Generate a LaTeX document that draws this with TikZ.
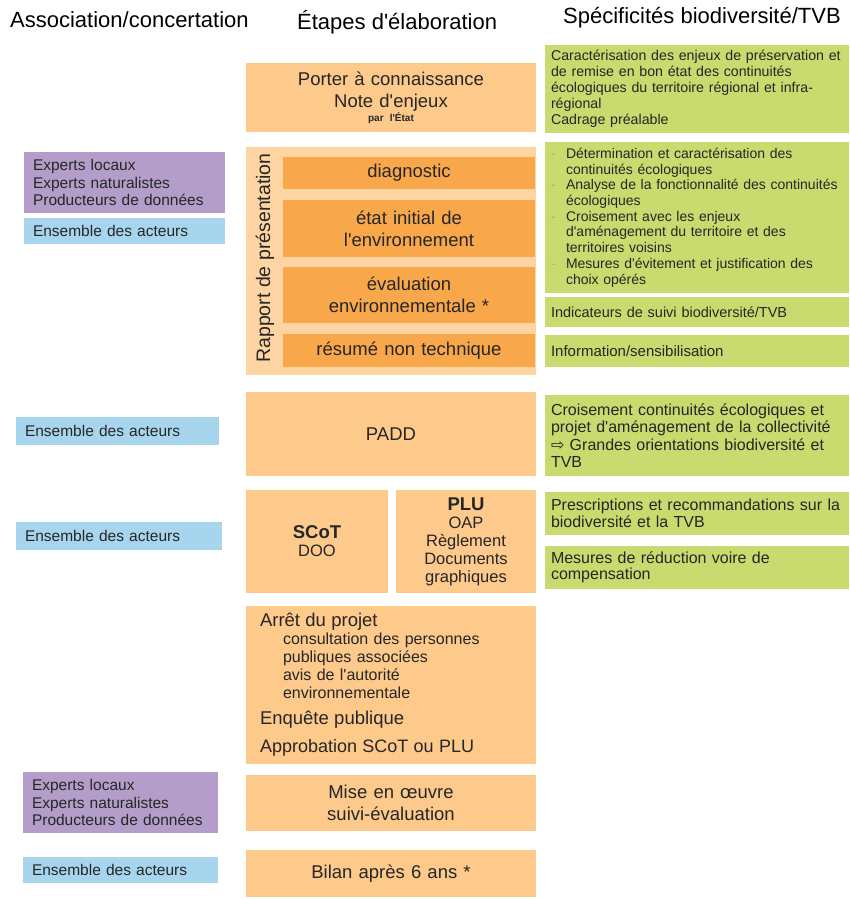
\documentclass[tikz,border=0pt]{standalone}
\usepackage{fontspec}
\setmainfont{Liberation Sans}[Ligatures=TeXOff]
\newfontfamily\arrowfont{DejaVu Sans}

\definecolor{lightorange}{HTML}{FDCA8C}
\definecolor{paleorange}{HTML}{FDD4A2}
\definecolor{darkorange}{HTML}{F8A84A}
\definecolor{leafgreen}{HTML}{C9DB6E}
\definecolor{lilac}{HTML}{B49EC9}
\definecolor{skyblue}{HTML}{A8D5EE}
\definecolor{inkgray}{HTML}{262626}
\definecolor{dashcol}{HTML}{B0AE78}

\newcommand{\fsz}[2]{\fontsize{#1}{#2}\selectfont}

\tikzset{
  cellbox/.style={anchor=north west, inner sep=0pt, outer sep=0pt, text=inkgray},
  stagebox/.style={cellbox, fill=lightorange, align=center, text width=280pt,
    minimum width=290, font=\fsz{18.5}{22}},
  substagebox/.style={cellbox, fill=darkorange, align=center, text width=240pt,
    minimum width=252, font=\fsz{18.5}{22}},
  specbox/.style={cellbox, fill=leafgreen, align=left, text width=292pt,
    minimum width=304, font=\fsz{14.5}{16}},
  actorbox/.style={cellbox, align=left, font=\fsz{15.5}{17.5}},
  expertbox/.style={actorbox, fill=lilac},
  allbox/.style={actorbox, fill=skyblue},
  colhead/.style={anchor=west, inner sep=0pt, font=\fsz{22}{24}, text=black},
}

\begin{document}
\hyphenpenalty=10000
\begin{tikzpicture}[x=1pt, y=-1pt]
  \useasboundingbox (0,0) rectangle (850,899);

  % -- column headers --
  \node[colhead] (hleft) at (10,20) {Association/concertation};
  \node[colhead] (hmid) at (297,22) {Étapes d'élaboration};
  \node[colhead] (hright) at (563,18) {Spécificités biodiversité/TVB};

  % -- stages (middle column) --
  \node[stagebox, minimum height=69] (pac) at (246,63)
    {Porter à connaissance\\Note d'enjeux\\[-8pt]{\fsz{10}{11}\bfseries par l'État}};
  \node[cellbox, fill=paleorange, minimum width=290, minimum height=228] (rapport) at (246,147) {};
  \node[rotate=90, inner sep=0pt, text=inkgray, font=\fsz{19.5}{22}] (rapportlabel) at (265,258)
    {Rapport de présentation};
  \node[substagebox, minimum height=32] (diag) at (283,157) {diagnostic};
  \node[substagebox, minimum height=57] (etat) at (283,200) {état initial de\\l'environnement};
  \node[substagebox, minimum height=56] (evalenv) at (283,267) {évaluation\\environnementale *};
  \node[substagebox, minimum height=33] (resume) at (283,334) {résumé non technique};
  \node[stagebox, minimum height=84] (padd) at (246,392) {PADD};
  \node[stagebox, text width=130pt, minimum width=142, minimum height=103, font=\fsz{16.5}{18}] (scot) at (246,490)
    {{\fsz{18.5}{18}\bfseries SCoT}\\DOO};
  \node[stagebox, text width=130pt, minimum width=140, minimum height=103, font=\fsz{16.5}{18}] (plu) at (396,490)
    {{\fsz{18.5}{18}\bfseries PLU}\\OAP\\Règlement\\Documents\\graphiques};
  \node[stagebox, align=left, text width=262pt, minimum height=158, font=\fsz{16}{18}] (arret) at (246,606)
    {{\fsz{18.5}{18}Arrêt du projet}\\
     \hspace*{23pt}consultation des personnes\\
     \hspace*{23pt}publiques associées\\
     \hspace*{23pt}avis de l'autorité\\
     \hspace*{23pt}environnementale\\[8pt]
     {\fsz{18.5}{18}Enquête publique}\\[10pt]
     {\fsz{18}{18}Approbation SCoT ou PLU}};
  \node[stagebox, minimum height=56] (mise) at (246,775) {Mise en œuvre\\suivi-évaluation};
  \node[stagebox, minimum height=47] (bilan) at (246,850) {Bilan après 6 ans *};

  % -- actors (left column) --
  \node[expertbox, minimum width=201, text width=183pt, minimum height=61] (experts1) at (24,152)
    {Experts locaux\\Experts naturalistes\\Producteurs de données};
  \node[allbox, minimum width=201, text width=183pt, minimum height=26] (all1) at (24,218) {Ensemble des acteurs};
  \node[allbox, minimum width=203, text width=185pt, minimum height=28] (all2) at (16,417) {Ensemble des acteurs};
  \node[allbox, minimum width=206, text width=188pt, minimum height=28] (all3) at (16,522) {Ensemble des acteurs};
  \node[expertbox, minimum width=195, text width=177pt, minimum height=61] (experts2) at (23,772)
    {Experts locaux\\Experts naturalistes\\Producteurs de données};
  \node[allbox, minimum width=195, text width=177pt, minimum height=26] (all4) at (23,857) {Ensemble des acteurs};

  % -- biodiversity / TVB (right column) --
  \node[specbox, minimum height=88, font=\fsz{14.2}{16}] (spec1) at (545,45)
    {Caractérisation des enjeux de préservation et\\de remise en bon état des continuités\\
     écologiques du territoire régional et infra-\\régional\\Cadrage préalable};
  \node[specbox, minimum height=151, font=\fsz{14}{15.7}] (spec2) at (545,142)
    {\makebox[15pt][l]{\textcolor{dashcol}{-}}Détermination et caractérisation des\\
     \hspace*{15pt}continuités écologiques\\
     \makebox[15pt][l]{\textcolor{dashcol}{-}}Analyse de la fonctionnalité des continuités\\
     \hspace*{15pt}écologiques\\
     \makebox[15pt][l]{\textcolor{dashcol}{-}}Croisement avec les enjeux\\
     \hspace*{15pt}d'aménagement du territoire et des\\
     \hspace*{15pt}territoires voisins\\
     \makebox[15pt][l]{\textcolor{dashcol}{-}}Mesures d'évitement et justification des\\
     \hspace*{15pt}choix opérés};
  \node[specbox, minimum height=30] (spec3) at (545,297) {Indicateurs de suivi biodiversité/TVB};
  \node[specbox, minimum height=32, font=\fsz{15}{16}] (spec4) at (545,335) {Information/sensibilisation};
  \node[specbox, minimum height=81, font=\fsz{16}{17.5}] (spec5) at (545,395)
    {Croisement continuités écologiques et\\projet d'aménagement de la collectivité\\
     {\arrowfont ⇨} Grandes orientations biodiversité et\\TVB};
  \node[specbox, minimum height=43, font=\fsz{16}{16.5}] (spec6) at (545,492)
    {Prescriptions et recommandations sur la\\biodiversité et la TVB};
  \node[specbox, minimum height=43, font=\fsz{16}{16.5}] (spec7) at (545,546)
    {Mesures de réduction voire de\\compensation};

\end{tikzpicture}
\end{document}
